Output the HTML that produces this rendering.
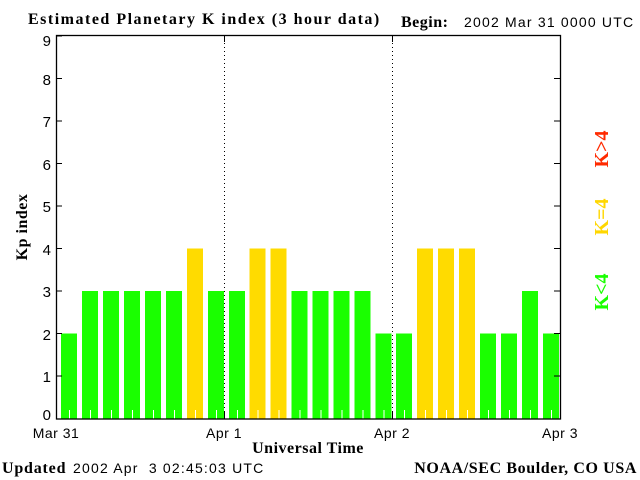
<!DOCTYPE html>
<html><head><style>body{margin:0;background:#fff}svg{display:block}</style></head><body>
<svg width="640" height="480" xmlns="http://www.w3.org/2000/svg" font-family="Liberation Sans, sans-serif">
<rect width="640" height="480" fill="#fff"/>
<g fill="#1aff00">
<rect x="61" y="333.5" width="16" height="85"/>
<rect x="82" y="291" width="16" height="127.5"/>
<rect x="103" y="291" width="16" height="127.5"/>
<rect x="124" y="291" width="16" height="127.5"/>
<rect x="145" y="291" width="16" height="127.5"/>
<rect x="166" y="291" width="16" height="127.5"/>
<rect x="208" y="291" width="16" height="127.5"/>
<rect x="229" y="291" width="16" height="127.5"/>
<rect x="291.5" y="291" width="16" height="127.5"/>
<rect x="312.5" y="291" width="16" height="127.5"/>
<rect x="333.5" y="291" width="16" height="127.5"/>
<rect x="354.5" y="291" width="16" height="127.5"/>
<rect x="375.5" y="333.5" width="16" height="85"/>
<rect x="396" y="333.5" width="16" height="85"/>
<rect x="480" y="333.5" width="16" height="85"/>
<rect x="501" y="333.5" width="16" height="85"/>
<rect x="522" y="291" width="16" height="127.5"/>
<rect x="543" y="333.5" width="16" height="85"/>
</g>
<g fill="#ffdb00">
<rect x="187" y="248.5" width="16" height="170"/>
<rect x="249.5" y="248.5" width="16" height="170"/>
<rect x="270.5" y="248.5" width="16" height="170"/>
<rect x="417" y="248.5" width="16" height="170"/>
<rect x="438" y="248.5" width="16" height="170"/>
<rect x="459" y="248.5" width="16" height="170"/>
</g>
<g stroke="#fff" stroke-width="1">
<path d="M69.5 410V419M90.5 410V419M111.5 410V419M132.5 410V419M153.5 410V419M174.5 410V419M195.5 410V419M216.5 410V419M237.5 410V419M258 410V419M279 410V419M300 410V419M321 410V419M342 410V419M363 410V419M384 410V419M404.5 410V419M425.5 410V419M446.5 410V419M467.5 410V419M488.5 410V419M509.5 410V419M530.5 410V419M551.5 410V419"/>
</g>
<line x1="224.5" y1="35" x2="224.5" y2="419" stroke="#000" stroke-dasharray="1,3"/>
<line x1="392.5" y1="35" x2="392.5" y2="419" stroke="#000" stroke-dasharray="1,3"/>
<rect x="56.5" y="35.5" width="504" height="383.5" fill="none" stroke="#000" stroke-width="1.3"/>
<g stroke="#000">
<line x1="56" y1="36" x2="62" y2="36"/><line x1="56" y1="78.5" x2="62" y2="78.5"/><line x1="56" y1="121" x2="62" y2="121"/><line x1="56" y1="163.5" x2="62" y2="163.5"/><line x1="56" y1="206" x2="62" y2="206"/><line x1="56" y1="248.5" x2="62" y2="248.5"/><line x1="56" y1="291" x2="62" y2="291"/><line x1="56" y1="333.5" x2="62" y2="333.5"/><line x1="56" y1="376" x2="62" y2="376"/>
<line x1="554" y1="78.5" x2="560" y2="78.5"/><line x1="554" y1="121" x2="560" y2="121"/><line x1="554" y1="163.5" x2="560" y2="163.5"/><line x1="554" y1="206" x2="560" y2="206"/><line x1="554" y1="248.5" x2="560" y2="248.5"/><line x1="554" y1="291" x2="560" y2="291"/><line x1="554" y1="333.5" x2="560" y2="333.5"/><line x1="554" y1="376" x2="560" y2="376"/>
<line x1="224.5" y1="35" x2="224.5" y2="42"/><line x1="392.5" y1="35" x2="392.5" y2="42"/>
<line x1="224.5" y1="412" x2="224.5" y2="419"/><line x1="392.5" y1="412" x2="392.5" y2="419"/>
</g>
<g font-size="15" text-anchor="end">
<text x="51" y="46">9</text><text x="51" y="85">8</text><text x="51" y="127">7</text><text x="51" y="170">6</text><text x="51" y="212">5</text><text x="51" y="255">4</text><text x="51" y="297">3</text><text x="51" y="340">2</text><text x="51" y="382">1</text><text x="51" y="420">0</text>
</g>
<g font-size="14" text-anchor="middle" letter-spacing="0.5">
<text x="56" y="438">Mar 31</text><text x="224" y="438">Apr 1</text><text x="392" y="438">Apr 2</text><text x="560" y="438">Apr 3</text>
</g>
<text x="308" y="453" font-family="Liberation Serif, serif" font-weight="bold" font-size="16" letter-spacing="0.5" text-anchor="middle">Universal Time</text>
<text transform="translate(27,227) rotate(-90)" font-family="Liberation Serif, serif" font-weight="bold" font-size="16" letter-spacing="0.5" text-anchor="middle">Kp index</text>
<text x="28" y="24" font-family="Liberation Serif, serif" font-weight="bold" font-size="16" letter-spacing="1.5">Estimated Planetary K index (3 hour data)</text>
<text x="401" y="27" font-family="Liberation Serif, serif" font-weight="bold" font-size="16" letter-spacing="0.5">Begin:</text>
<text x="464" y="27" font-size="14" letter-spacing="1.2">2002 Mar 31 0000 UTC</text>
<text x="2" y="473" font-family="Liberation Serif, serif" font-weight="bold" font-size="16" letter-spacing="0.8">Updated</text>
<text x="73" y="473" font-size="14" letter-spacing="1.2" xml:space="preserve">2002 Apr  3 02:45:03 UTC</text>
<text x="637" y="473" font-family="Liberation Serif, serif" font-weight="bold" font-size="16" letter-spacing="0.6" text-anchor="end">NOAA/SEC Boulder, CO USA</text>
<g font-family="Liberation Serif, serif" font-weight="bold" font-size="20" text-anchor="middle">
<text transform="translate(608,149) rotate(-90)" fill="#ff2a00">K&gt;4</text>
<text transform="translate(608,217) rotate(-90)" fill="#ffd700">K=4</text>
<text transform="translate(608,292) rotate(-90)" fill="#1aff00">K&lt;4</text>
</g>
</svg>
</body></html>
